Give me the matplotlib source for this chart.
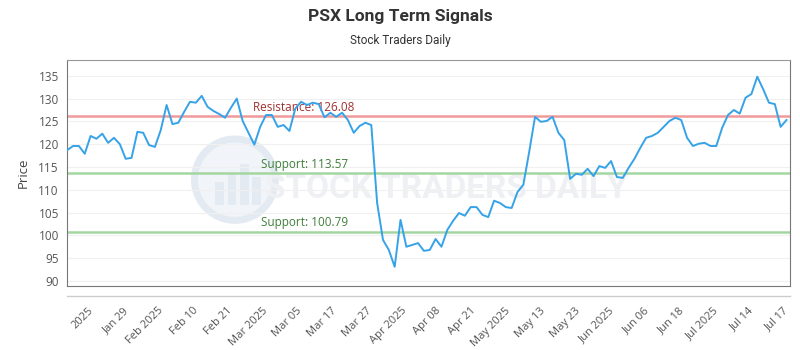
import matplotlib
matplotlib.use("Agg")
import matplotlib.pyplot as plt
from matplotlib.patches import Ellipse, Rectangle
from matplotlib.lines import Line2D
import numpy as np

# closing prices
prices = [118.7, 119.6, 119.6, 117.9, 121.8, 121.2, 122.3, 120.3, 121.4, 120.0,
          116.8, 117.0, 122.7, 122.5, 119.8, 119.4, 123.1, 128.6, 124.4, 124.7,
          127.1, 129.3, 129.1, 130.6, 128.2, 127.3, 126.6, 125.8, 128.0, 130.0,
          125.1, 122.5, 119.9, 123.8, 126.4, 126.4, 123.8, 124.2, 122.9, 127.8,
          129.3, 128.6, 129.1, 128.8, 125.9, 126.9, 126.0, 126.9, 125.3, 122.5,
          124.0, 124.7, 124.2, 107.1, 99.0, 96.8, 93.1, 103.4, 97.5, 97.9,
          98.3, 96.6, 96.8, 99.2, 97.5, 101.2, 103.2, 104.9, 104.3, 106.2,
          106.2, 104.5, 104.0, 107.6, 107.1, 106.2, 106.0, 109.5, 111.1, 118.3,
          126.0, 124.9, 125.1, 126.0, 122.5, 120.9, 112.4, 113.5, 113.3, 114.6,
          113.0, 115.2, 114.8, 116.3, 112.8, 112.6, 114.8, 116.8, 119.2, 121.4,
          121.8, 122.5, 123.8, 125.1, 125.8, 125.3, 121.4, 119.6, 120.1, 120.3,
          119.6, 119.6, 123.6, 126.4, 127.5, 126.7, 130.2, 131.0, 134.8, 132.1,
          129.1, 128.8, 123.8, 125.3]

tick_labels = ["2025", "Jan 29", "Feb 2025", "Feb 10", "Feb 21", "Mar 2025",
               "Mar 05", "Mar 17", "Mar 27", "Apr 2025", "Apr 08", "Apr 21",
               "May 2025", "May 13", "May 23", "Jun 2025", "Jun 06", "Jun 18",
               "Jul 2025", "Jul 14", "Jul 17"]

resistance = 126.08
supports = [113.57, 100.79]

x = np.arange(len(prices))

fig = plt.figure(figsize=(8, 3.5), dpi=100)
ax = fig.add_axes([0.084, 0.183, 0.9035, 0.646])

# faint watermark (logo ring + name)
ax.add_patch(Ellipse((0.232, 0.47), 0.112, 0.36, transform=ax.transAxes,
                     facecolor="#f1f5f9", edgecolor="#e3eaf1", lw=5, zorder=0))
for bx, bh in [(0.205, 0.10), (0.222, 0.14), (0.239, 0.18), (0.256, 0.12)]:
    ax.add_patch(Rectangle((bx, 0.36), 0.012, bh, transform=ax.transAxes,
                           facecolor="#e3eaf1", edgecolor="none", zorder=0))
ax.text(0.525, 0.43, "STOCK TRADERS DAILY", transform=ax.transAxes,
        fontsize=24, fontweight="bold", color="#eef0f3", ha="center", va="center",
        family="Roboto", zorder=0)

for y in np.arange(90, 140, 5):
    ax.axhline(y, color="#f0f0f0", lw=0.8, zorder=1)

ax.axhline(resistance, color="#f19a9a", lw=1.8, zorder=2)
for s in supports:
    ax.axhline(s, color="#a3d6a0", lw=1.8, zorder=2)

ax.text(31.8, resistance + 0.6, f"Resistance: {resistance:.2f}", color="#a03030",
        fontsize=8.5, family="Open Sans", va="bottom")
for s in supports:
    ax.text(33.2, s + 0.6, f"Support: {s:.2f}", color="#3f7f3a",
            fontsize=8.5, family="Open Sans", va="bottom")

ax.plot(x, prices, color="#36a2e8", lw=1.4, zorder=3)

ax.set_xlim(0, 123.6)
ax.set_ylim(88.9, 138.5)
ax.set_yticks(np.arange(90, 140, 5))
ax.set_xticks(np.linspace(3.6, 122.4, len(tick_labels)))
ax.set_xticklabels(tick_labels, rotation=45, ha="right", rotation_mode="anchor")
ax.tick_params(axis="x", length=0, pad=14, labelsize=8, labelcolor="#555555")
ax.tick_params(axis="y", length=0, pad=6, labelsize=8.5, labelcolor="#555555")
for lab in ax.get_xticklabels() + ax.get_yticklabels():
    lab.set_family("Open Sans")

for side in ["left", "bottom", "right"]:
    ax.spines[side].set_color("#777777")
ax.spines["top"].set_color("#999999")

# light separator line under the frame
ax.add_line(Line2D([0, 1], [-0.045, -0.045], transform=ax.transAxes,
                   color="#cccccc", lw=1, clip_on=False))

ax.set_ylabel("Price", fontsize=9.5, color="#444444", family="Open Sans", labelpad=6)

fig.text(0.5, 0.952, "PSX Long Term Signals", ha="center", va="center",
         fontsize=12.5, fontweight="bold", color="#333333", family="Roboto",
         stretch="condensed")
fig.text(0.5, 0.885, "Stock Traders Daily", ha="center", va="center",
         fontsize=8.5, color="#333333", family="Roboto")

fig.savefig("out.png", dpi=100)
